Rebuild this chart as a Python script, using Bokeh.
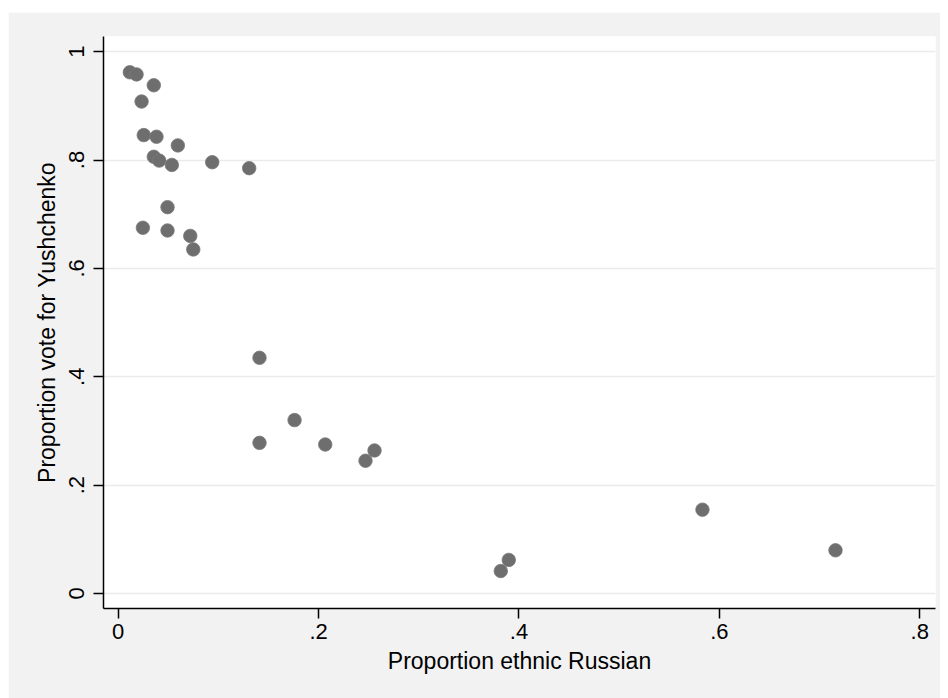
from bokeh.plotting import figure
from bokeh.models import Range1d, FixedTicker, Spacer
from bokeh.layouts import column, row
from bokeh.embed import file_html
from bokeh.resources import INLINE

# Proportion ethnic Russian (x) and proportion vote for Yushchenko (y), by region
russian = [0.0116, 0.0183, 0.0355, 0.0233, 0.0255, 0.0382, 0.0595, 0.0355, 0.0409,
           0.0535, 0.0938, 0.1307, 0.0492, 0.0246, 0.0492, 0.0719, 0.0749,
           0.141, 0.176, 0.141, 0.2066, 0.2558, 0.2468, 0.3898, 0.3818, 0.5831, 0.7159]
yushchenko = [0.962, 0.958, 0.938, 0.908, 0.846, 0.843, 0.827, 0.806, 0.799,
              0.791, 0.796, 0.785, 0.713, 0.675, 0.670, 0.660, 0.635,
              0.435, 0.320, 0.278, 0.275, 0.264, 0.245, 0.062, 0.0415, 0.1547, 0.0797]

x_ticks = [0, 0.2, 0.4, 0.6, 0.8]
x_tick_labels = ["0", ".2", ".4", ".6", ".8"]
y_ticks = [0, 0.2, 0.4, 0.6, 0.8, 1.0]
y_tick_labels = ["0", ".2", ".4", ".6", ".8", "1"]

FONT = "Liberation Sans"
BG = "#f2f2f2"

p = figure(width=932, height=686, output_backend="svg", toolbar_location=None,
           x_range=Range1d(-0.0147, 0.8157), y_range=Range1d(-0.0277, 1.028),
           min_border_left=95, min_border_right=5, min_border_top=24, min_border_bottom=90,
           border_fill_color=BG, background_fill_color="white")
p.outline_line_color = None

p.scatter(russian, yushchenko, size=13.5, fill_color="#6e6e6e", line_color="#7a7a7a",
          line_width=0.8)

p.xaxis.ticker = FixedTicker(ticks=x_ticks)
p.xaxis.major_label_overrides = {t: l for t, l in zip(x_ticks, x_tick_labels)}
p.yaxis.ticker = FixedTicker(ticks=y_ticks)
p.yaxis.major_label_overrides = {t: l for t, l in zip(y_ticks, y_tick_labels)}
p.yaxis.major_label_orientation = "vertical"

p.xaxis.axis_label = "Proportion ethnic Russian"
p.yaxis.axis_label = "Proportion vote for Yushchenko"

for ax in (p.xaxis, p.yaxis):
    ax.axis_line_color = "black"
    ax.axis_line_width = 1.5
    ax.major_tick_line_color = "black"
    ax.major_tick_line_width = 1.5
    ax.major_tick_out = 10
    ax.major_tick_in = 0
    ax.minor_tick_line_color = None
    ax.major_label_text_font = FONT
    ax.major_label_text_font_size = "22px"
    ax.major_label_text_color = "black"
    ax.axis_label_text_font = FONT
    ax.axis_label_text_font_size = "23px"
    ax.axis_label_text_font_style = "normal"
    ax.axis_label_text_color = "black"

p.xaxis.major_label_standoff = 5
p.yaxis.major_label_standoff = 9
p.xaxis.axis_label_standoff = 6
p.yaxis.axis_label_standoff = 7

p.xgrid.grid_line_color = None
p.ygrid.grid_line_color = "#ebebeb"
p.ygrid.grid_line_width = 1.5

layout = column(Spacer(width=940, height=12),
                row(Spacer(width=8, height=686), p, spacing=0),
                spacing=0)

open("out.html", "w").write(file_html(layout, INLINE))
